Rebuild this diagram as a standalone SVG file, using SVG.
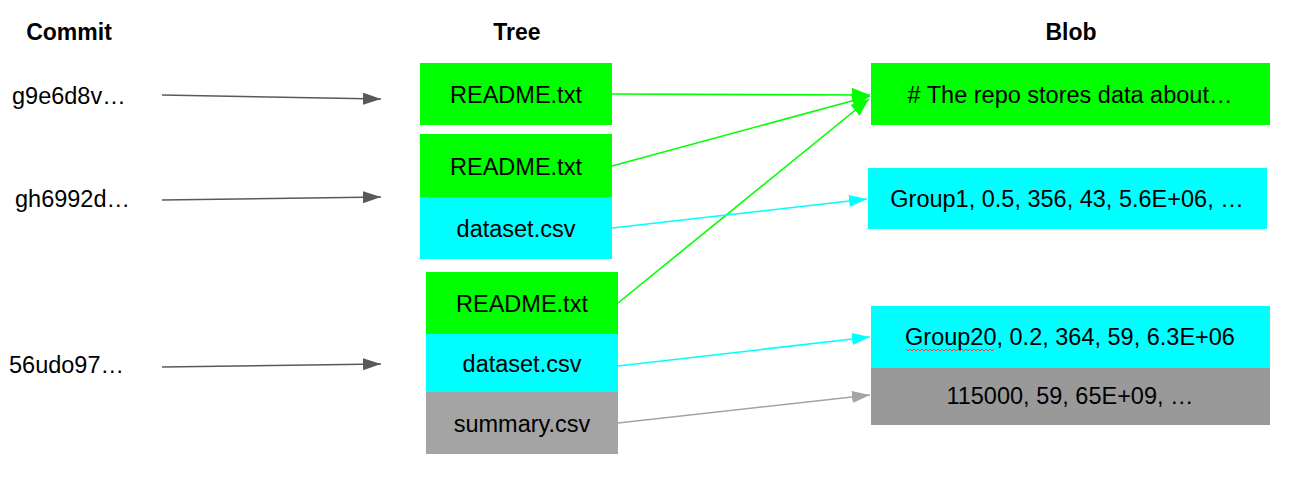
<svg xmlns="http://www.w3.org/2000/svg" width="1290" height="477" viewBox="0 0 1290 477">
<style>
text{font-family:"Liberation Sans",Arial,sans-serif;font-size:23.5px;fill:#000}
.t{text-anchor:middle}
.h{font-weight:bold;text-anchor:middle;font-size:23px}
.g{fill:#00ff00}.c{fill:#00ffff}.s1{fill:#a4a4a4}.s2{fill:#999999}
.ln{fill:none;stroke-width:1.6}
</style>
<defs>
<marker id="ad" markerUnits="userSpaceOnUse" markerWidth="18" markerHeight="12" refX="18" refY="6" orient="auto"><path d="M0,0 L18,6 L0,12 z" fill="#595959"/></marker>
<marker id="ag" markerUnits="userSpaceOnUse" markerWidth="18" markerHeight="14" refX="18" refY="7" orient="auto"><path d="M0,0 L18,7 L0,14 z" fill="#00ff00"/></marker>
<marker id="ac" markerUnits="userSpaceOnUse" markerWidth="18" markerHeight="12" refX="18" refY="6" orient="auto"><path d="M0,0 L18,6 L0,12 z" fill="#00ffff"/></marker>
<marker id="ay" markerUnits="userSpaceOnUse" markerWidth="18" markerHeight="12" refX="18" refY="6" orient="auto"><path d="M0,0 L18,6 L0,12 z" fill="#a4a4a4"/></marker>
</defs>
<g id="titles">
<text class="h" x="69" y="40">Commit</text>
<text class="h" x="517" y="40">Tree</text>
<text class="h" x="1071" y="40">Blob</text>
</g>
<g id="commits">
<text x="12" y="104">g9e6d8v…</text>
<text x="15" y="207">gh6992d…</text>
<text x="9" y="373">56udo97…</text>
</g>
<g id="tree1">
<rect class="g" x="420" y="63" width="192" height="62"/>
<text class="t" x="516" y="103">README.txt</text>
</g>
<g id="tree2">
<rect class="g" x="420" y="134" width="192" height="63"/>
<rect class="c" x="420" y="197" width="192" height="62"/>
<text class="t" x="516" y="175">README.txt</text>
<text class="t" x="516" y="237">dataset.csv</text>
</g>
<g id="tree3">
<rect class="g" x="426" y="272" width="192" height="62"/>
<rect class="c" x="426" y="334" width="192" height="58"/>
<rect class="s1" x="426" y="392" width="192" height="62"/>
<text class="t" x="522" y="312">README.txt</text>
<text class="t" x="522" y="372">dataset.csv</text>
<text class="t" x="522" y="432">summary.csv</text>
</g>
<g id="blob1">
<rect class="g" x="871" y="63" width="399" height="62"/>
<text class="t" x="1070" y="103"># The repo stores data about…</text>
</g>
<g id="blob2">
<rect class="c" x="868" y="168" width="399" height="61"/>
<text class="t" x="1067" y="207">Group1, 0.5, 356, 43, 5.6E+06, …</text>
</g>
<g id="blob3">
<rect class="c" x="871" y="306" width="399" height="62"/>
<rect class="s2" x="871" y="368" width="399" height="57"/>
<text class="t" x="1070" y="345">Group20, 0.2, 364, 59, 6.3E+06</text>
<path d="M906,349 l2,2 l2,-2 l2,2 l2,-2 l2,2 l2,-2 l2,2 l2,-2 l2,2 l2,-2 l2,2 l2,-2 l2,2 l2,-2 l2,2 l2,-2 l2,2 l2,-2 l2,2 l2,-2 l2,2 l2,-2 l2,2 l2,-2 l2,2 l2,-2 l2,2 l2,-2 l2,2 l2,-2 l2,2 l2,-2 l2,2 l2,-2 l2,2 l2,-2 l2,2 l2,-2 l2,2 l2,-2 l2,2 l2,-2 l2,2 l2,-2" fill="none" stroke="#ff4040" stroke-width="1"/>
<text class="t" x="1070" y="404">115000, 59, 65E+09, …</text>
</g>
<g id="connectors">
<line class="ln" x1="162" y1="95" x2="381" y2="99" stroke="#595959" marker-end="url(#ad)"/>
<line class="ln" x1="162" y1="200" x2="381" y2="197" stroke="#595959" marker-end="url(#ad)"/>
<line class="ln" x1="162" y1="367" x2="381" y2="364" stroke="#595959" marker-end="url(#ad)"/>
<line class="ln" x1="612" y1="94" x2="870" y2="95" stroke="#00ff00" marker-end="url(#ag)"/>
<line class="ln" x1="612" y1="166" x2="870" y2="96" stroke="#00ff00" marker-end="url(#ag)"/>
<line class="ln" x1="618" y1="303" x2="869" y2="99" stroke="#00ff00" marker-end="url(#ag)"/>
<line class="ln" x1="612" y1="228" x2="867" y2="199" stroke="#00ffff" marker-end="url(#ac)"/>
<line class="ln" x1="618" y1="366" x2="870" y2="337" stroke="#00ffff" marker-end="url(#ac)"/>
<line class="ln" x1="618" y1="423" x2="870" y2="395" stroke="#a4a4a4" marker-end="url(#ay)"/>
</g>
</svg>
